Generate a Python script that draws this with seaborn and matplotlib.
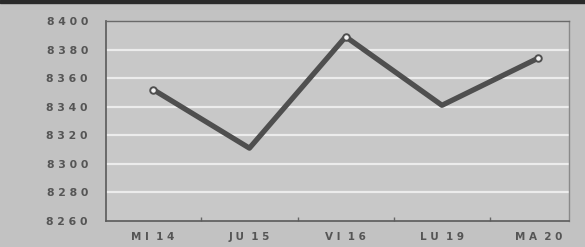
import matplotlib
matplotlib.use("Agg")
import matplotlib.pyplot as plt
import seaborn as sns
import pandas as pd

# --- Data ---
days = ["M I  1 4", "J U  1 5", "V I  1 6", "L U  1 9", "M A  2 0"]
values = [8352, 8311, 8389, 8341, 8374]
yticks = [8260, 8280, 8300, 8320, 8340, 8360, 8380, 8400]
open_points = [0, 2, 4]

df = pd.DataFrame({"pos": range(len(days)), "value": values})

sns.set_theme(style="white")
plt.rcParams["font.family"] = ["DejaVu Sans"]

fig = plt.figure(figsize=(5.85, 2.47), dpi=100, facecolor="#c2c2c2")
ax = fig.add_axes([106 / 585, 26 / 247, 463 / 585, 200 / 247])
ax.set_facecolor("#c8c8c8")

# white horizontal rules
for y in yticks[1:-1]:
    ax.axhline(y, color="#ececec", lw=1.6, zorder=1)

sns.lineplot(data=df, x="pos", y="value", ax=ax, color="#4f4f4f",
             lw=3.8, solid_joinstyle="round", solid_capstyle="round", zorder=3)
op = df.iloc[open_points]
ax.scatter(op["pos"], op["value"], s=22, facecolor="#f2f2f2",
           edgecolor="#4f4f4f", linewidth=1.4, zorder=4)

ax.set_xlim(-0.49, 4.32)
ax.set_ylim(8260, 8400)
ax.set_xticks(range(len(days)))
ax.set_xticklabels(days)
ax.set_xticks([0.5, 1.5, 2.5, 3.5], minor=True)
ax.set_yticks(yticks)
ax.set_yticklabels([" ".join(str(t)) for t in yticks])
ax.tick_params(axis="x", which="major", length=0, pad=8, labelsize=7.5,
               labelcolor="#555555")
ax.tick_params(axis="x", which="minor", direction="in", length=3,
               color="#666666", bottom=True)
ax.tick_params(axis="y", length=0, pad=13, labelsize=7.8, labelcolor="#555555")
for lab in ax.get_xticklabels() + ax.get_yticklabels():
    lab.set_fontweight("bold")
ax.set_xlabel("")
ax.set_ylabel("")

for side, col, w in [("left", "#5a5a5a", 1.2), ("bottom", "#5a5a5a", 1.2),
                     ("top", "#6a6a6a", 1.0), ("right", "#8a8a8a", 1.0)]:
    ax.spines[side].set_visible(True)
    ax.spines[side].set_color(col)
    ax.spines[side].set_linewidth(w)

# dark strip along the top edge of the clipping
fig.patches.append(plt.Rectangle((0, 244 / 247), 1, 3 / 247, transform=fig.transFigure,
                                 color="#2a2a2a", zorder=0))

fig.savefig("out.png", dpi=100, facecolor=fig.get_facecolor())
